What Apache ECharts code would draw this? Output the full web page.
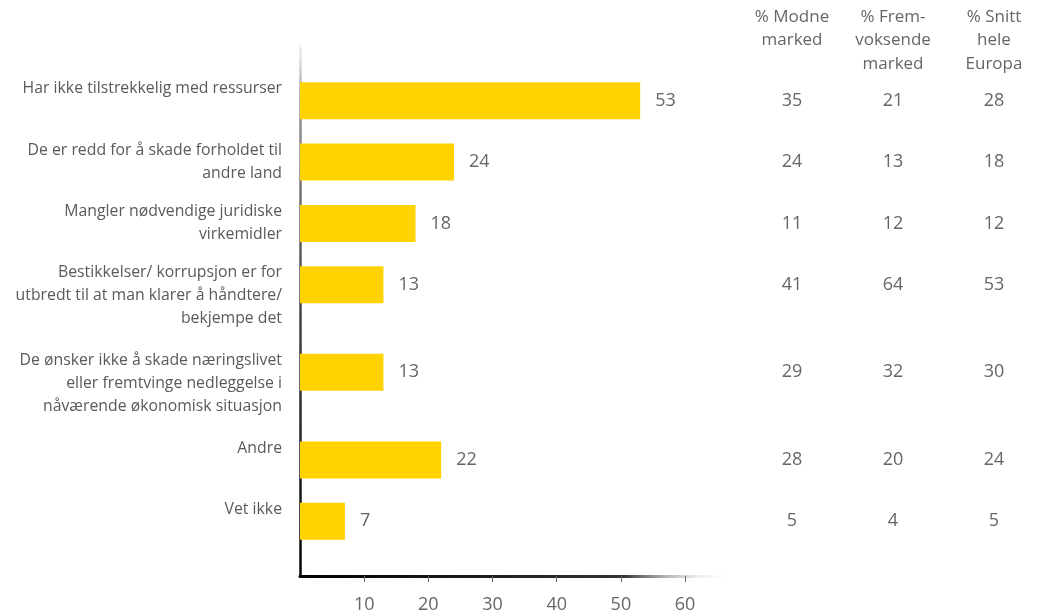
<!DOCTYPE html>
<html><head><meta charset="utf-8">
<script src="https://cdn.jsdelivr.net/npm/echarts@6/dist/echarts.min.js"></script>
<style>html,body{margin:0;padding:0;background:#fff}#c{width:1037px;height:614px}</style>
</head><body><div id="c"></div>
<script>
const categories = [
  "Har ikke tilstrekkelig med ressurser",
  "De er redd for å skade forholdet til\nandre land",
  "Mangler nødvendige juridiske\nvirkemidler",
  "Bestikkelser/ korrupsjon er for\nutbredt til at man klarer å håndtere/\nbekjempe det",
  "De ønsker ikke å skade næringslivet\neller fremtvinge nedleggelse i\nnåværende økonomisk situasjon",
  "Andre",
  "Vet ikke"
];
const values = [53, 24, 18, 13, 13, 22, 7];
const modneMarked = [35, 24, 11, 41, 29, 28, 5];
const fremvoksendeMarked = [21, 13, 12, 64, 32, 20, 4];
const snittEuropa = [28, 18, 12, 53, 30, 24, 5];
const tableHeaders = ["% Modne\nmarked", "% Frem-\nvoksende\nmarked", "% Snitt\nhele\nEuropa"];
const xTicks = [10, 20, 30, 40, 50, 60];

// layout: uneven row spacing expressed as category slots
const rowGap = [14, 14, 14, 20, 20, 14];
const leadSlots = 12;
const totalSlots = 121;
const labelShift = 6;
const headerX = [792, 893, 994];

const rowSlot = [leadSlots];
rowGap.forEach(g => rowSlot.push(rowSlot[rowSlot.length - 1] + g));

function slotArray(arr, shift) {
  const out = new Array(totalSlots).fill('');
  arr.forEach((v, i) => { out[rowSlot[i] - (shift || 0)] = v; });
  return out;
}
const slotNames = Array.from({length: totalSlots}, (_, i) => 's' + i);
const barData = new Array(totalSlots).fill(null);
values.forEach((v, i) => { barData[rowSlot[i]] = v; });

const FONT = "'Open Sans', sans-serif";
const GREY = '#666';

function tableAxis(arr, margin) {
  return {
    type: 'category', inverse: true, position: 'right', data: slotArray(arr),
    axisLine: {show: false}, axisTick: {show: false}, splitLine: {show: false},
    axisLabel: {interval: 0, margin: margin, align: 'center', verticalAlign: 'middle',
      color: GREY, fontSize: 18, fontFamily: FONT}
  };
}

const chart = echarts.init(document.getElementById('c'), null, {renderer: 'canvas'});
chart.setOption({
  animation: false,
  grid: {left: 300, right: 307, top: 46, bottom: 37, containLabel: false},
  xAxis: {
    type: 'value', min: 0, max: 67, interval: 10,
    splitLine: {show: false},
    axisLine: {show: true, lineStyle: {width: 3, color: {type: 'linear', x: 0, y: 0, x2: 1, y2: 0,
      colorStops: [{offset: 0, color: '#000'}, {offset: 0.75, color: '#333'}, {offset: 1, color: 'rgba(255,255,255,0)'}]}}},
    axisTick: {show: true, length: 6, customValues: xTicks, lineStyle: {color: GREY, width: 1}},
    axisLabel: {customValues: xTicks, margin: 20, color: GREY, fontSize: 18, fontFamily: FONT}
  },
  yAxis: [
    {
      type: 'category', inverse: true, data: slotNames,
      axisLine: {show: true, lineStyle: {width: 2.5, color: {type: 'linear', x: 0, y: 0, x2: 0, y2: 1,
        colorStops: [{offset: 0, color: 'rgba(220,220,220,0.4)'}, {offset: 0.1, color: '#999'}, {offset: 0.5, color: '#444'}, {offset: 1, color: '#000'}]}}},
      axisTick: {show: false}, axisLabel: {show: false}, splitLine: {show: false}
    },
    {
      type: 'category', inverse: true, position: 'left', data: slotArray(categories, labelShift),
      axisLine: {show: false}, axisTick: {show: false}, splitLine: {show: false},
      axisLabel: {interval: 0, margin: 18, align: 'right', verticalAlign: 'top', padding: [3, 0, 0, 0],
        color: '#5a5a5a', fontSize: 15.8, lineHeight: 23, fontFamily: FONT}
    },
    tableAxis(modneMarked, 62),
    tableAxis(fremvoksendeMarked, 163),
    tableAxis(snittEuropa, 264)
  ],
  series: [{
    type: 'bar', yAxisIndex: 0, data: barData, barWidth: 37,
    itemStyle: {color: '#FFD200'},
    label: {show: true, position: 'right', distance: 15, color: GREY, fontSize: 18, fontFamily: FONT}
  }],
  graphic: tableHeaders.map((t, i) => ({
    type: 'text', x: headerX[i], y: 5,
    style: {text: t, textAlign: 'center', fill: GREY, fontSize: 17, lineHeight: 23.5, fontFamily: FONT}
  }))
});
</script></body></html>
